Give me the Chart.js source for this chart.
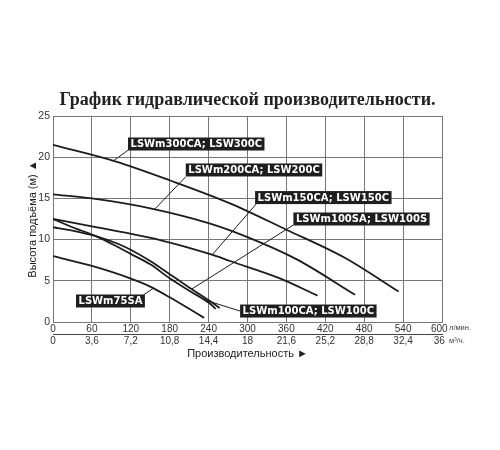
<!DOCTYPE html>
<html>
<head>
<meta charset="utf-8">
<script src="https://cdn.jsdelivr.net/npm/chart.js@4.4.0/dist/chart.umd.min.js"></script>
<style>
  html, body { margin: 0; padding: 0; background: #fff; }
</style>
</head>
<body>
<canvas id="myChart" width="500" height="450"></canvas>
<script>
// оси
const flowValues = [0, 60, 120, 180, 240, 300, 360, 420, 480, 540, 600];
const flowM3hLabels = ['0', '3,6', '7,2', '10,8', '14,4', '18', '21,6', '25,2', '28,8', '32,4', '36'];
const headValues = [0, 5, 10, 15, 20, 25];

// кривые (л/мин -> м)
const q300 = [0, 96, 180, 273, 360, 450, 533];
const h300 = [21.5, 19.5, 17.2, 14.4, 11.2, 7.8, 3.7];

const q200 = [0, 60, 150, 240, 300, 376, 466];
const h200 = [15.5, 15.0, 13.8, 12.0, 10.3, 7.6, 3.3];

const q150 = [0, 60, 165, 244, 273, 350, 408];
const h150 = [12.5, 11.6, 9.95, 8.2, 7.4, 5.3, 3.2];

const q100s = [0, 30, 67, 100, 119, 150, 180, 210, 241, 257];
const h100s = [11.5, 11.1, 10.4, 9.5, 8.8, 7.4, 5.8, 4.2, 2.6, 1.7];

const q100c = [0, 30, 67, 100, 119, 150, 180, 210, 241, 251];
const h100c = [12.5, 11.5, 10.4, 9.1, 8.3, 7.0, 5.3, 3.8, 2.3, 1.6];

const q75 = [0, 60, 119, 150, 180, 210, 233];
const h75 = [8.0, 6.8, 5.3, 4.3, 3.0, 1.6, 0.5];

// подписи моделей
const labelTexts = ['LSWm300CA; LSW300C', 'LSWm200CA; LSW200C', 'LSWm150CA; LSW150C',
                    'LSWm100SA; LSW100S', 'LSWm100CA; LSW100C', 'LSWm75SA'];
const labelQ = [115.7, 204.8, 311.7, 370.8, 288.6, 35.5];
const labelH = [21.6, 18.45, 15.1, 12.5, 1.33, 2.55];

// выноски
const leaderFromQ = [116.2, 204.8, 314.3, 370.8, 288.6, 139.4];
const leaderFromH = [20.87, 17.63, 14.4, 11.77, 1.33, 3.28];
const leaderToQ = [93, 157, 245, 214, 231, 155];
const leaderToH = [19.55, 13.7, 8.1, 4.0, 2.75, 4.1];

function toPoints(qs, hs) {
    return qs.map((q, i) => ({ x: q, y: hs[i] }));
}

const curves = [
    [q300, h300], [q200, h200], [q150, h150],
    [q100s, h100s], [q100c, h100c], [q75, h75]
];

const datasets = curves.map(c => ({
    data: toPoints(c[0], c[1]),
    borderColor: '#1c1c1c',
    borderWidth: 1.8,
    pointRadius: 0,
    cubicInterpolationMode: 'monotone',
    fill: false
}));

leaderFromQ.forEach((q, i) => {
    datasets.push({
        data: [{ x: q, y: leaderFromH[i] }, { x: leaderToQ[i], y: leaderToH[i] }],
        borderColor: '#1c1c1c',
        borderWidth: 1,
        pointRadius: 0,
        tension: 0,
        fill: false
    });
});

const labelBoxes = {
    id: 'labelBoxes',
    afterDatasetsDraw(chart) {
        const ctx = chart.ctx;
        const xs = chart.scales.x;
        const ys = chart.scales.y;
        ctx.save();
        ctx.font = 'bold 10px "DejaVu Sans"';
        ctx.textBaseline = 'middle';
        ctx.textAlign = 'left';
        labelTexts.forEach((t, i) => {
            const px = xs.getPixelForValue(labelQ[i]);
            const py = ys.getPixelForValue(labelH[i]);
            const w = ctx.measureText(t).width + 5;
            ctx.fillStyle = '#1e1e1e';
            ctx.fillRect(px, py - 6.5, w, 13);
            ctx.fillStyle = '#ffffff';
            ctx.fillText(t, px + 2.5, py + 0.5);
        });
        ctx.restore();
    },
    afterDraw(chart) {
        const ctx = chart.ctx;
        const area = chart.chartArea;
        ctx.save();
        ctx.font = '7.5px "Liberation Sans"';
        ctx.fillStyle = '#444';
        ctx.textBaseline = 'middle';
        ctx.textAlign = 'left';
        ctx.fillText('л/мин.', area.right + 7, chart.scales.x.top + 6);
        ctx.fillText('м³/ч.', area.right + 7, chart.scales.x2.top + 7);
        ctx.restore();
    }
};

const gridColor = '#777';
const tickFont = { family: '"Liberation Sans"', size: 10 };
const lastPad = '\u2007';

const config = {
    type: 'line',
    data: { datasets: datasets },
    options: {
        responsive: false,
        animation: false,
        events: [],
        layout: { padding: { left: 0, right: 58, top: 0, bottom: 76 } },
        plugins: {
            legend: { display: false },
            tooltip: { enabled: false },
            title: {
                display: true,
                fullSize: false,
                text: 'График гидравлической производительности.',
                color: '#222',
                font: { family: '"Liberation Serif"', size: 18, weight: 'bold' },
                padding: { top: 89.2, bottom: 5.2 }
            }
        },
        scales: {
            x: {
                type: 'linear',
                position: 'bottom',
                min: 0,
                max: 600,
                afterBuildTicks: s => { s.ticks = flowValues.map(v => ({ value: v })); },
                afterFit: s => { s.height = 12; },
                ticks: { color: '#333', font: tickFont, padding: 1, maxRotation: 0,
                         callback: (v, i) => i === flowValues.length - 1 ? v + lastPad : String(v) },
                grid: { color: gridColor, lineWidth: 1, drawTicks: false },
                border: { display: true, color: gridColor }
            },
            x2: {
                type: 'linear',
                position: 'bottom',
                axis: 'x',
                min: 0,
                max: 600,
                afterBuildTicks: s => { s.ticks = flowValues.map(v => ({ value: v })); },
                afterFit: s => { s.height = 40; },
                ticks: { color: '#333', font: tickFont, padding: 1, maxRotation: 0,
                         callback: (v, i) => i === flowM3hLabels.length - 1 ? flowM3hLabels[i] + lastPad : flowM3hLabels[i] },
                grid: { display: true, drawOnChartArea: false, drawTicks: false, color: '#444' },
                border: { display: true, color: '#444', width: 1 },
                title: {
                    display: true,
                    text: 'Производительность ►',
                    color: '#222',
                    font: { family: '"Liberation Sans"', size: 11 },
                    padding: { top: 0, bottom: 13.4 }
                }
            },
            y: {
                type: 'linear',
                min: 0,
                max: 25,
                afterBuildTicks: s => { s.ticks = headValues.map(v => ({ value: v })); },
                afterFit: s => { s.width = 53; },
                ticks: { color: '#333', font: { family: '"Liberation Sans"', size: 10.5 }, padding: 3 },
                grid: { color: gridColor, lineWidth: 1, drawTicks: false },
                border: { display: true, color: gridColor },
                title: {
                    display: true,
                    text: 'Высота подъёма (м) ▲',
                    color: '#222',
                    font: { family: '"Liberation Sans"', size: 11 },
                    padding: { top: 26.5, bottom: 0 }
                }
            }
        }
    },
    plugins: [labelBoxes]
};

new Chart(document.getElementById('myChart').getContext('2d'), config);
</script>
</body>
</html>
